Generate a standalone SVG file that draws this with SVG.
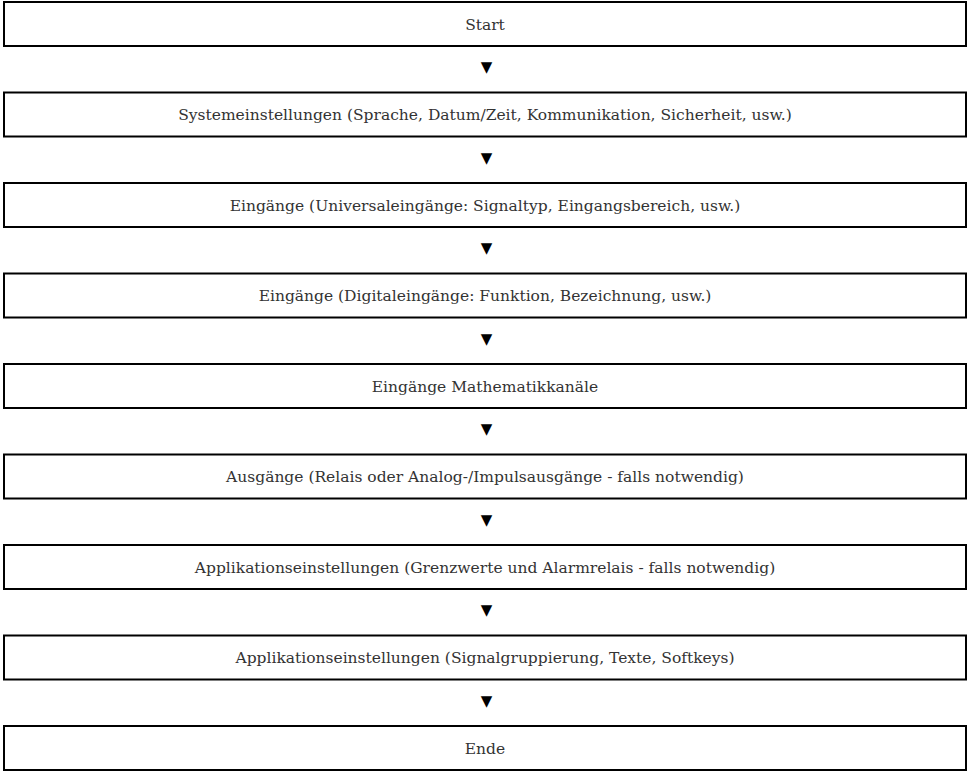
<svg xmlns="http://www.w3.org/2000/svg" width="972" height="772" viewBox="0 0 972 772">
<style>
.box{fill:#fff;stroke:#000;stroke-width:2}
.lbl{font-family:"DejaVu Serif","Liberation Serif",serif;font-size:15.5px;fill:#333;text-anchor:middle}
.arr{font-family:"DejaVu Sans",sans-serif;font-size:15px;fill:#000;text-anchor:middle}
</style>
<rect width="972" height="772" fill="#fff"/>
<g id="connectors">
<text class="arr" x="486.5" y="72">▼</text>
<text class="arr" x="486.5" y="162.5">▼</text>
<text class="arr" x="486.5" y="253">▼</text>
<text class="arr" x="486.5" y="343.5">▼</text>
<text class="arr" x="486.5" y="434">▼</text>
<text class="arr" x="486.5" y="524.5">▼</text>
<text class="arr" x="486.5" y="615">▼</text>
<text class="arr" x="486.5" y="705.5">▼</text>
</g>
<g id="n1"><rect class="box" x="4" y="2" width="962" height="44"/><text class="lbl" x="485" y="29.5">Start</text></g>
<g id="n2"><rect class="box" x="4" y="92.5" width="962" height="44"/><text class="lbl" x="485" y="120">Systemeinstellungen (Sprache, Datum/Zeit, Kommunikation, Sicherheit, usw.)</text></g>
<g id="n3"><rect class="box" x="4" y="183" width="962" height="44"/><text class="lbl" x="485" y="210.5">Eingänge (Universaleingänge: Signaltyp, Eingangsbereich, usw.)</text></g>
<g id="n4"><rect class="box" x="4" y="273.5" width="962" height="44"/><text class="lbl" x="485" y="301">Eingänge (Digitaleingänge: Funktion, Bezeichnung, usw.)</text></g>
<g id="n5"><rect class="box" x="4" y="364" width="962" height="44"/><text class="lbl" x="485" y="391.5">Eingänge Mathematikkanäle</text></g>
<g id="n6"><rect class="box" x="4" y="454.5" width="962" height="44"/><text class="lbl" x="485" y="482">Ausgänge (Relais oder Analog-/Impulsausgänge - falls notwendig)</text></g>
<g id="n7"><rect class="box" x="4" y="545" width="962" height="44"/><text class="lbl" x="485" y="572.5">Applikationseinstellungen (Grenzwerte und Alarmrelais - falls notwendig)</text></g>
<g id="n8"><rect class="box" x="4" y="635.5" width="962" height="44"/><text class="lbl" x="485" y="663">Applikationseinstellungen (Signalgruppierung, Texte, Softkeys)</text></g>
<g id="n9"><rect class="box" x="4" y="726" width="962" height="44"/><text class="lbl" x="485" y="753.5">Ende</text></g>
</svg>
